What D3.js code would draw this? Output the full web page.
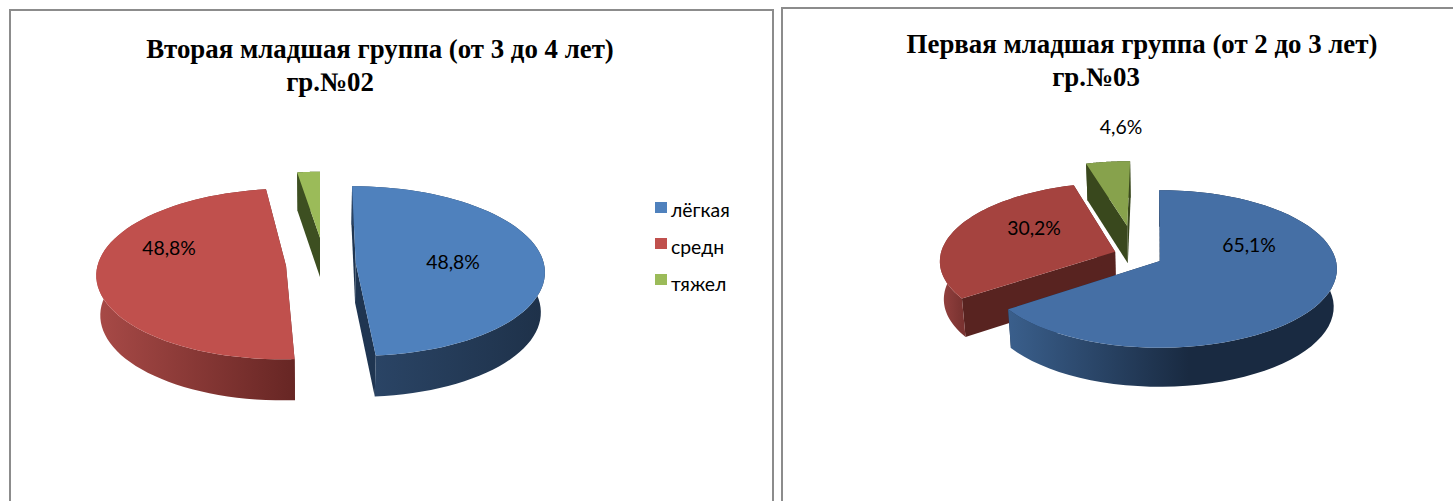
<!DOCTYPE html>
<html><head><meta charset="utf-8">
<script src="https://cdn.jsdelivr.net/npm/d3@7"></script>
<style>html,body{margin:0;padding:0;background:#fff;overflow:hidden}svg{display:block}</style>
</head><body><svg id="c" width="1453" height="501"></svg>
<script>
const categories = ["лёгкая", "средн", "тяжел"];
const valuesLeft = [48.8, 48.8, 2.4];
const valuesRight = [65.1, 30.2, 4.6];
const labelsLeft = ["48,8%", "48,8%", null];
const labelsRight = ["65,1%", "30,2%", "4,6%"];
const titleLeft = ["Вторая младшая группа (от 3 до 4 лет)", "гр.№02"];
const titleRight = ["Первая младшая группа (от 2 до 3 лет)", "гр.№03"];

const svg = d3.select("#c");
const defs = svg.append("defs");

const charts = [
 {id:"L", values:valuesLeft, labels:labelsLeft, title:titleLeft,
  frame:[10,10,773,520], titleX:[380,330], titleY:[58,91],
  cx:320, cy:263, rx:188, ry:84, k:0.094, depth:41, narrow:0.018, rot:-1,
  offs:[[0.19,0],[-0.18,0.035],[0,-0.31]],
  turn:[0.8,2,1], rad:[1,1,0.9],
  order:[2,0,1],
  top:["#4f81bd","#c0504d","#9bbb59"],
  cut:["#1f3551","#6a2826","#3d4f21"],
  rim:[["#2a4465","#1e3149"],["#a84a47","#672624"],["#3d4f21","#3d4f21"]],
  labelPos:[[453,264],[169,250],null]},
 {id:"R", values:valuesRight, labels:labelsRight, title:titleRight,
  frame:[782,8,1500,520], titleX:[1142,1096], titleY:[52.5,86],
  cx:1160, cy:261, rx:176, ry:78, k:0.101, depth:39, narrow:0.018, rot:0,
  offs:[[0,0],[-0.258,-0.12],[-0.195,-0.47]],
  turn:[-0.3,0,0], rad:[1,1,1],
  order:[2,1,0],
  top:["#456fa5","#a5433f","#87a24c"],
  cut:["#1c2f49","#582320","#39481d"],
  rim:[["#3a5f8c","#192a41"],["#964240","#7a3331"],["#39481d","#39481d"]],
  labelPos:[[1249,247],[1034,230],[1121,129]]}
];

charts.forEach(ch => {
  const [x0,y0,x1,y1] = ch.frame;
  svg.append("rect").attr("x",x0).attr("y",y0).attr("width",x1-x0).attr("height",y1-y0)
    .attr("fill","#fff").attr("stroke","#8c8c8c").attr("stroke-width",2);

  ch.title.forEach((t,i)=>svg.append("text").text(t)
    .attr("x",ch.titleX[i]).attr("y",ch.titleY[i]).attr("text-anchor","middle")
    .attr("font-family","Liberation Serif").attr("font-weight","bold")
    .attr("font-size",26.85).attr("fill","#000"));

  const pie = d3.pie().sort(null).startAngle(ch.rot*Math.PI/180).endAngle(2*Math.PI+ch.rot*Math.PI/180);
  const arcs = pie(ch.values);

  const project = (u,v,z) => {
    const s = 1/(1-ch.k*v);
    return [ch.cx + ch.rx*u*s*(1-ch.narrow*z), ch.cy + ch.ry*v*s + ch.depth*z*(1-0.06*(1-Math.max(v,-1))/2)];
  };
  const line = d3.line();

  ch.order.forEach(i=>{
    const a = arcs[i], [ou,ov] = ch.offs[i];
    const d = ch.turn[i]*Math.PI/180, R = ch.rad[i];
    const a0 = a.startAngle+d, a1 = a.endAngle+d;
    const P = (t,r,z)=>project(ou+R*r*Math.sin(t), ov-R*r*Math.cos(t), z);
    const ts = d3.range(0,65).map(j=>a0+(a1-a0)*j/64);
    const topPts = [P(0,0,0),...ts.map(t=>P(t,1,0))];
    const botPts = ts.map(t=>P(t,1,1));
    const g = svg.append("g").attr("class","slice");
    [a0,a1].forEach(t=>{
      g.append("path").attr("fill",ch.cut[i])
       .attr("d",line([P(0,0,0),P(t,1,0),P(t,1,1),P(0,0,1)])+"Z");
    });
    const gid = "rim"+ch.id+i;
    const xs = topPts.slice(1).map(p=>p[0]);
    const visible = ts.filter(t=>Math.cos(t)<0.15).map(t=>P(t,1,0)[0]);
    const ext = visible.length?d3.extent(visible):d3.extent(xs);
    const gr = defs.append("linearGradient").attr("id",gid).attr("gradientUnits","userSpaceOnUse")
      .attr("x1",ext[0]).attr("x2",ext[1]).attr("y1",0).attr("y2",0);
    gr.append("stop").attr("offset",0).attr("stop-color",ch.rim[i][0]);
    gr.append("stop").attr("offset",i===0&&ch.id==="R"?0.55:1).attr("stop-color",ch.rim[i][1]);
    g.append("path").attr("fill",`url(#${gid})`)
      .attr("d",line([...ts.map(t=>P(t,1,0)),...botPts.slice().reverse()])+"Z");
    g.append("path").attr("fill",ch.top[i]).attr("d",line(topPts)+"Z");
  });

  ch.labels.forEach((l,i)=>{ if(!l) return;
    svg.append("text").text(l).attr("x",ch.labelPos[i][0]).attr("y",ch.labelPos[i][1])
      .attr("text-anchor","middle").attr("dominant-baseline","middle")
      .attr("font-family","Lato, 'Open Sans', sans-serif").attr("font-size",19.4).attr("fill","#000");
  });
});

const ly = d3.scalePoint().domain(categories).range([209,281]);
const lt = d3.scalePoint().domain(categories).range([212,286]);
const lg = svg.append("g");
categories.forEach((c,i)=>{
  lg.append("rect").attr("x",655).attr("y",ly(c)-7).attr("width",12).attr("height",11).attr("fill",charts[0].top[i]);
  lg.append("text").text(c).attr("x",671).attr("y",lt(c)).attr("dominant-baseline","middle")
    .attr("font-family","Lato, 'Open Sans', sans-serif").attr("font-size",19.4).attr("fill","#000");
});
</script></body></html>
